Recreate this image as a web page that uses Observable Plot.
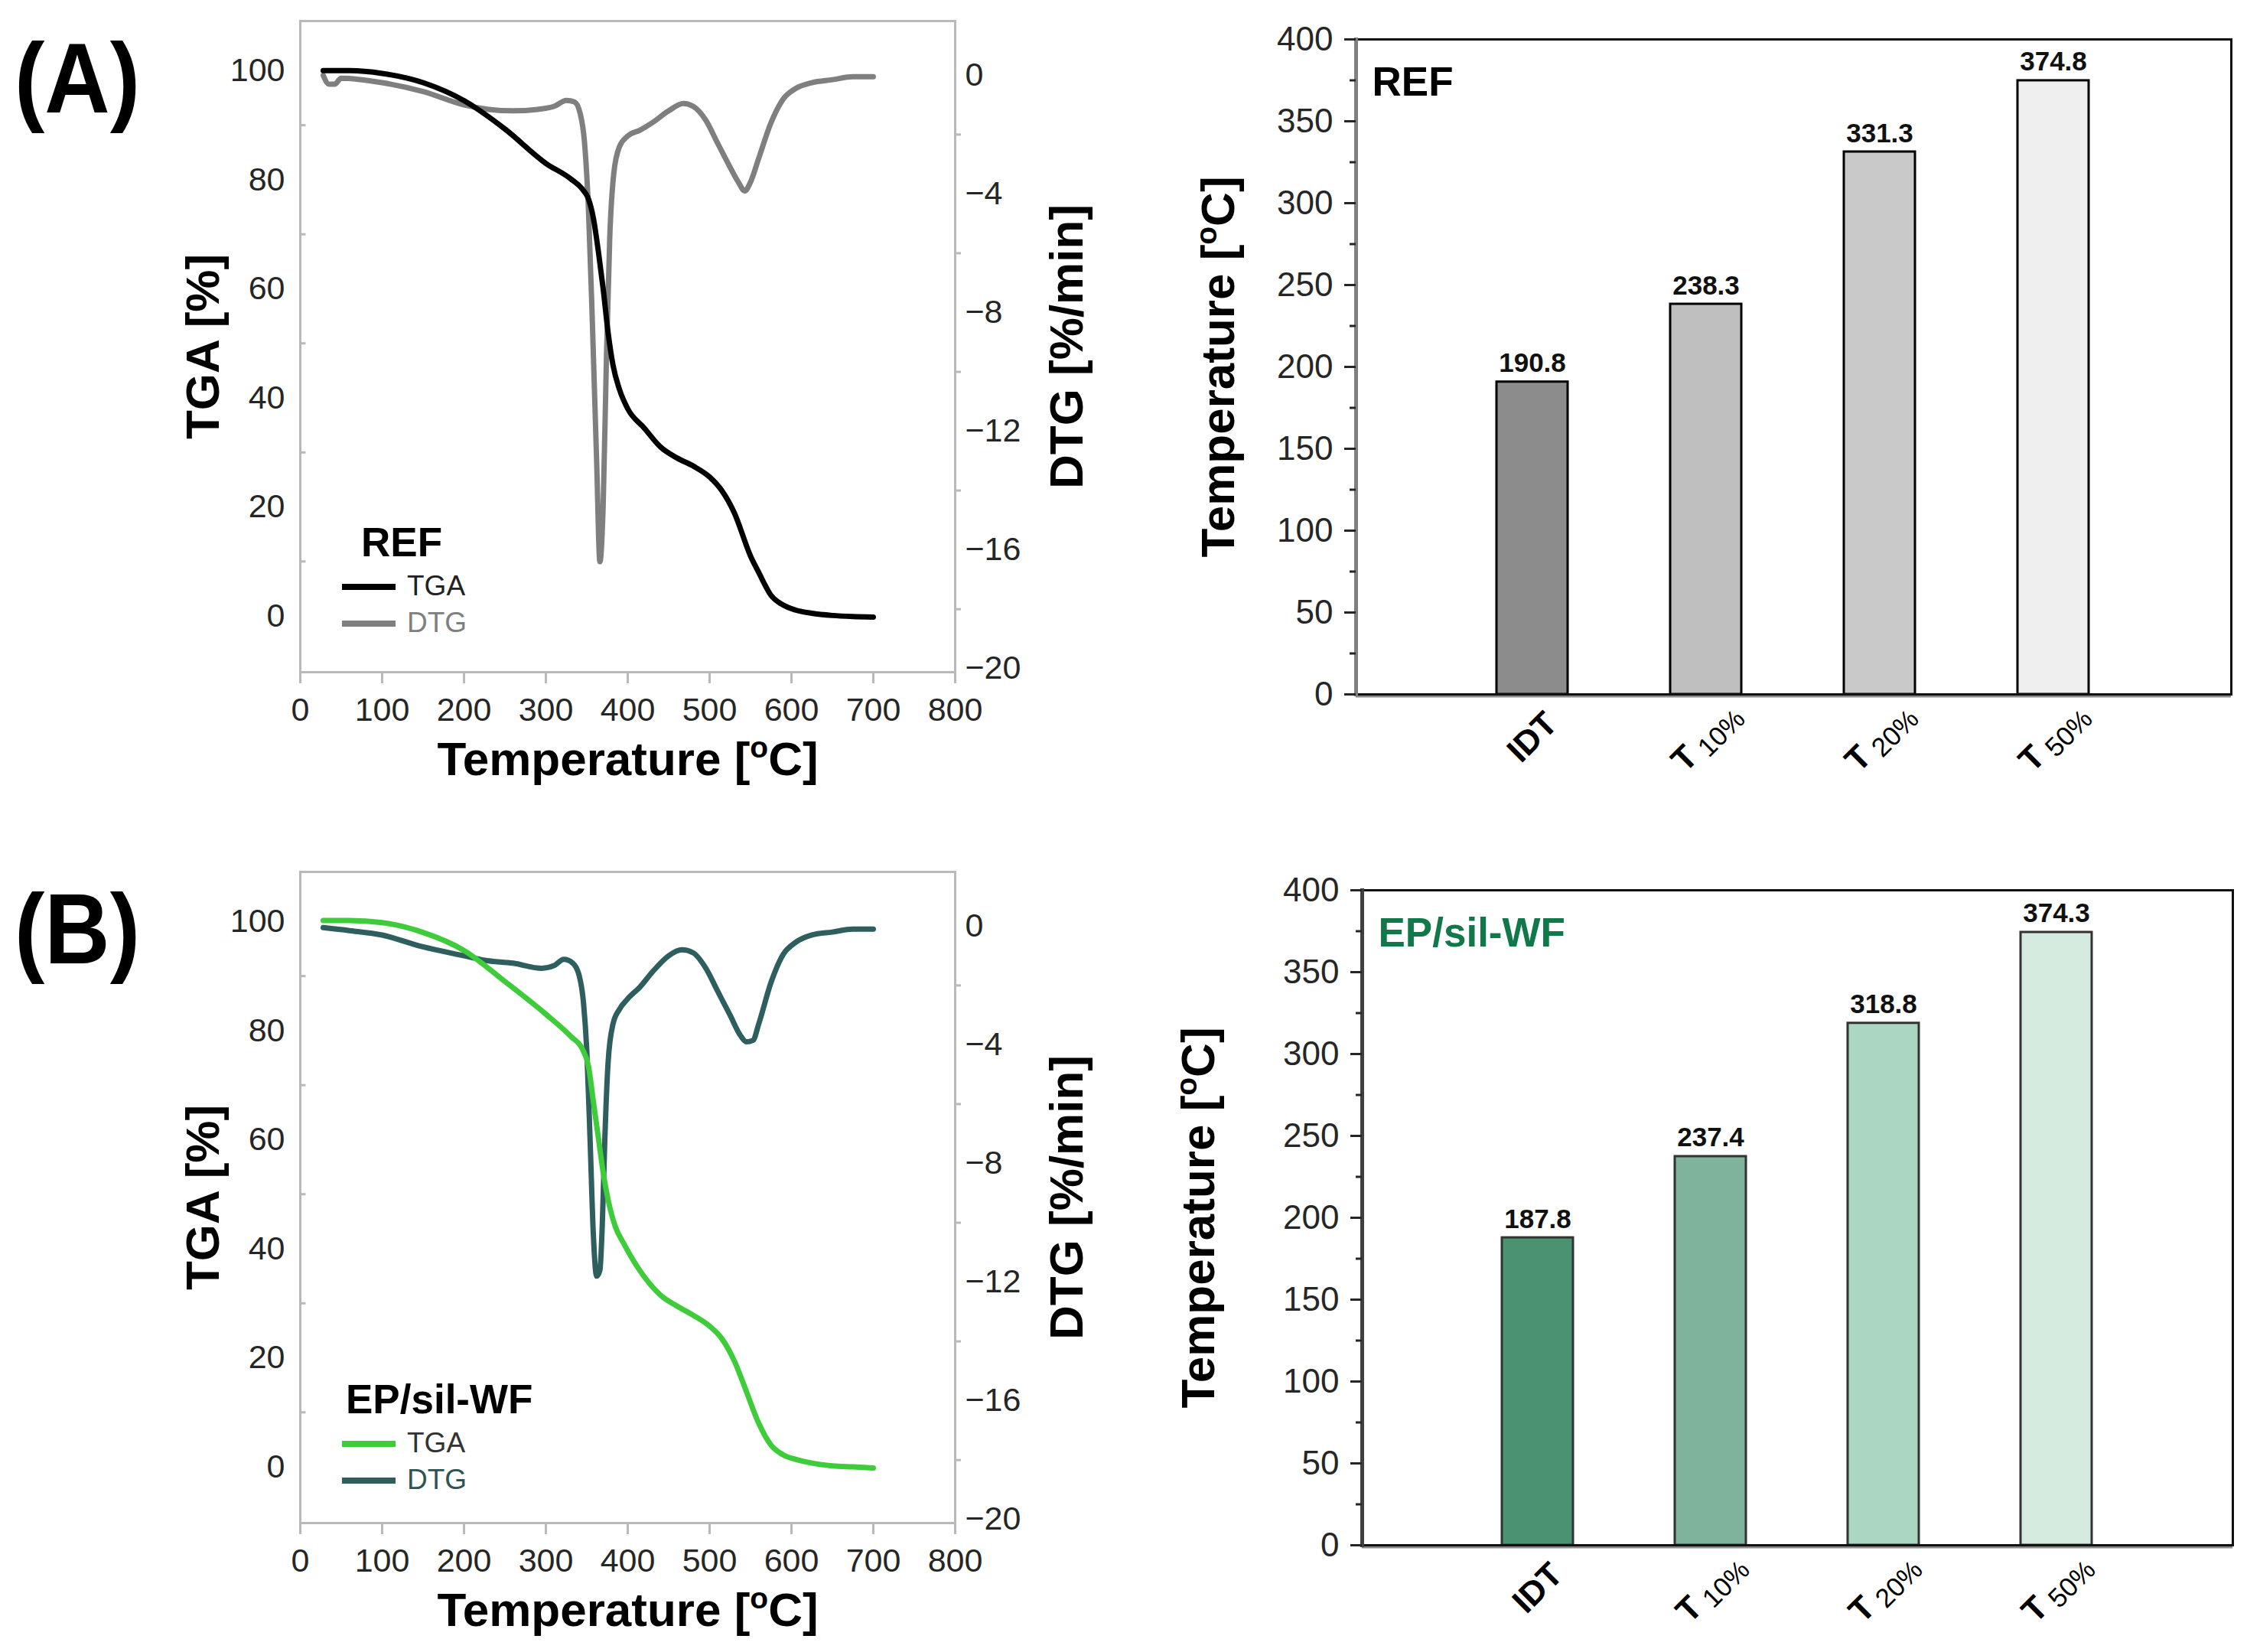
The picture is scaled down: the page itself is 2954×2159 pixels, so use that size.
<!DOCTYPE html>
<html>
<head>
<meta charset="utf-8">
<script src="https://cdn.jsdelivr.net/npm/d3@7"></script>
<script src="https://cdn.jsdelivr.net/npm/@observablehq/plot@0.6"></script>
<style>
  body { margin: 0; background: #fff; }
  #fig { position: relative; width: 2954px; height: 2159px; background: #fff; }
  #fig svg { position: absolute; }
</style>
</head>
<body>
<div id="fig"></div>
<script>
// ---- (A) REF : TGA / DTG curves ----
const refTgaT = [28, 60, 100, 150, 200, 250, 300, 330, 345, 352, 358, 364, 370, 376, 382, 390, 400, 420, 440, 460, 480, 500, 515, 530, 550, 560, 575, 590, 605, 625, 650, 675, 700];
const refTga  = [100, 100, 99.5, 97.8, 94.5, 89.3, 83, 80.2, 78.2, 76.5, 73, 67, 60, 52, 46, 41.5, 38, 34.5, 31, 29, 27.5, 25.5, 23, 19, 11, 8, 3.8, 2, 1.1, 0.5, 0.1, -0.1, -0.2];
const refDtgT = [28, 35, 42, 50, 100, 150, 200, 230, 260, 290, 310, 325, 335, 342, 347, 352, 357, 362, 366, 370, 374, 378, 383, 390, 400, 415, 430, 450, 468, 480, 495, 510, 525, 535, 543, 550, 560, 575, 590, 605, 625, 650, 675, 700];
const refDtg  = [0, -0.3, -0.3, -0.1, -0.25, -0.55, -1.0, -1.15, -1.2, -1.15, -1.05, -0.85, -0.9, -1.3, -2.2, -4.5, -8.5, -13, -16.4, -14.5, -9.5, -5.5, -3.3, -2.4, -2.05, -1.85, -1.6, -1.2, -0.95, -1.05, -1.5, -2.3, -3.1, -3.6, -3.9, -3.6, -2.8, -1.6, -0.8, -0.45, -0.25, -0.15, -0.05, -0.05];

// ---- (B) EP/sil-WF : TGA / DTG curves ----
const silTgaT = [28, 60, 100, 150, 200, 250, 300, 330, 345, 352, 358, 364, 370, 376, 385, 395, 413, 440, 460, 480, 500, 515, 530, 545, 560, 575, 590, 605, 625, 650, 675, 700];
const silTga  = [100.2, 100.2, 99.8, 98, 94.7, 89, 83, 79, 76.5, 73.5, 67, 60.5, 54, 49, 44, 41, 36.4, 31.5, 29.5, 27.8, 25.8, 23.5, 19.5, 13.8, 8, 4, 2.2, 1.4, 0.7, 0.2, 0, -0.2];
const silDtgT = [28, 60, 100, 150, 200, 225, 260, 295, 310, 322, 333, 341, 346, 350, 354, 358, 362, 366, 369, 372, 376, 382, 390, 400, 415, 430, 450, 466, 480, 495, 510, 525, 538, 545, 553, 560, 575, 590, 605, 625, 650, 675, 700];
const silDtg  = [-0.05, -0.15, -0.3, -0.7, -1.0, -1.15, -1.25, -1.42, -1.33, -1.12, -1.25, -1.7, -2.6, -4.2, -7.2, -10.4, -11.8, -11.6, -10, -7.2, -4.6, -3.3, -2.8, -2.45, -2.05, -1.55, -1.0, -0.8, -0.9, -1.4, -2.2, -3.0, -3.7, -3.9, -3.85, -3.3, -1.9, -0.95, -0.55, -0.3, -0.2, -0.1, -0.1];

// ---- bar charts ----
const barCats = ["IDT", "T10%", "T20%", "T50%"];
const refBars = [190.8, 238.3, 331.3, 374.8];
const silBars = [187.8, 237.4, 318.8, 374.3];
const refBarColors = ["#8c8c8c", "#bfbfbf", "#c9c9c9", "#efefef"];
const silBarColors = ["#4b9370", "#7fb39b", "#aad6c2", "#d6ebe0"];

// ---- ticks ----
const tgaTicks = [0, 20, 40, 60, 80, 100];
const tgaMinor = [10, 30, 50, 70, 90];
const dtgTicks = [0, -4, -8, -12, -16, -20];
const dtgMinor = [-2, -6, -10, -14, -18];
const tempTicks = d3.range(0, 801, 100);
const barTicks = d3.range(0, 401, 50);
const barMinor = d3.range(25, 400, 50);

// DTG is drawn on the TGA scale (secondary axis)
const toT = d => 99.16 + 5.439 * d;
const fromT = t => (t - 99.16) / 5.439;
const signed = d => d === 0 ? "0" : "\u2212" + Math.abs(d);

const FONT = '"Liberation Sans", Arial, "DejaVu Sans", sans-serif';
const frameGray = "#b9b9b9";

function tgaChart({height, marginTop, tgaT, tga, dtgT, dtg, tgaColor, dtgColor}) {
  const tgaData = tgaT.map((t, i) => ({t, v: tga[i]}));
  const dtgData = dtgT.map((t, i) => ({t, v: dtg[i]}));
  return Plot.plot({
    width: 1500, height,
    marginTop, marginBottom: height - marginTop - 851,
    marginLeft: 392, marginRight: 252,
    x: {domain: [0, 800], label: null},
    y: {domain: [-10.3, 109.1], label: null},
    style: {fontFamily: FONT, fontSize: "43px", color: "#262626", background: "white"},
    marks: [
      Plot.frame({stroke: frameGray, strokeWidth: 3}),
      Plot.ruleY(tgaMinor, {x1: 0, x2: 7, stroke: frameGray, strokeWidth: 3}),
      Plot.axisY({ticks: tgaTicks, tickSize: 0, tickPadding: 20, fontSize: 43}),
      Plot.axisY({anchor: "right", ticks: dtgMinor.map(toT), tickSize: 7, tickFormat: () => "", stroke: frameGray, strokeWidth: 3}),
      Plot.axisY({anchor: "right", ticks: dtgTicks.map(toT), tickSize: 0, tickPadding: 13, fontSize: 43,
        tickFormat: t => signed(Math.round(fromT(t)))}),
      Plot.axisX({ticks: tempTicks, tickSize: 15, tickPadding: 18, stroke: frameGray, strokeWidth: 3, fontSize: 43}),
      Plot.line(dtgData, {x: "t", y: d => toT(d.v), stroke: dtgColor, strokeWidth: 7, curve: "monotone-x"}),
      Plot.line(tgaData, {x: "t", y: "v", stroke: tgaColor, strokeWidth: 7, curve: "monotone-x"}),
      Plot.text(["TGA [%]"], {text: d => d, frameAnchor: "left", dx: -126, rotate: -90, textAnchor: "middle", fontSize: 62, fontWeight: "bold", fill: "#000"}),
      Plot.text(["DTG [%/min]"], {text: d => d, frameAnchor: "right", dx: 147, rotate: -90, textAnchor: "middle", fontSize: 62, fontWeight: "bold", fill: "#000"}),
      Plot.text(["Temperature [oC]"], {text: d => d, frameAnchor: "bottom", dy: 134, lineAnchor: "bottom", textAnchor: "middle", fontSize: 62, fontWeight: "bold", fill: "#000"})
    ]
  });
}

function barChart({height, marginTop, marginLeft, marginRight, values, colors, label, labelColor, axisColor, barStroke, titleDx}) {
  const data = barCats.map((c, i) => ({cat: c, value: values[i], color: colors[i]}));
  return Plot.plot({
    width: 1454, height,
    marginTop, marginBottom: height - marginTop - 856,
    marginLeft, marginRight,
    x: {domain: barCats, padding: 0.59, insetLeft: 49, insetRight: 51, label: null, axis: null},
    y: {domain: [0, 400], label: null},
    style: {fontFamily: FONT, fontSize: "44px", color: "#262626", background: "white"},
    marks: [
      Plot.barY(data, {x: "cat", y: "value", fill: "color", stroke: barStroke, strokeWidth: 3}),
      Plot.ruleY([0], {stroke: "#8a8a8a", strokeWidth: 4, dy: 2}),
      Plot.frame({stroke: "#111", strokeWidth: 3}),
      Plot.frame({anchor: "left", stroke: axisColor, strokeWidth: 5}),
      Plot.axisY({ticks: barTicks, tickSize: 15, tickPadding: 15, strokeWidth: 3, fontSize: 44}),
      Plot.axisY({ticks: barMinor, tickSize: 8, tickFormat: () => "", strokeWidth: 3}),
      // category labels, rotated like the original
      Plot.text(data, {x: "cat", text: "cat", frameAnchor: "bottom", dy: 56, rotate: -45, textAnchor: "middle", lineAnchor: "middle",
        fontSize: 44, fontWeight: "bold", fill: "#000"}),
      Plot.text(data, {x: "cat", y: "value", text: d => d.value.toFixed(1), dy: -13, lineAnchor: "bottom", fontSize: 35, fontWeight: "bold", fill: "#111"}),
      Plot.text([label], {text: d => d, frameAnchor: "top-left", dx: 21, dy: 36, lineAnchor: "top", textAnchor: "start", fontSize: 53, fontWeight: "bold", fill: labelColor}),
      Plot.text(["Temperature [oC]"], {text: d => d, frameAnchor: "left", dx: titleDx, rotate: -90, textAnchor: "middle", fontSize: 62, fontWeight: "bold", fill: "#000"})
    ]
  });
}

// superscript "o" in [oC] and subscript in T10% etc.
function decorate(svg) {
  d3.select(svg).selectAll("text").each(function () {
    const el = d3.select(this);
    const s = el.text();
    if (s === "Temperature [oC]") {
      el.text(null);
      el.append("tspan").text("Temperature [");
      el.append("tspan").attr("font-size", 39).attr("dy", -23).text("o");
      el.append("tspan").attr("dy", 23).text("C]");
    } else if (/^T\d+%$/.test(s)) {
      el.text(null);
      el.append("tspan").text("T");
      el.append("tspan").attr("font-size", 35).attr("font-weight", "normal").attr("dx", 9).attr("dy", 8).text(s.slice(1));
    }
  });
}

function addLegend(svg, {x, y, titleDx, title, items}) {
  const g = d3.select(svg).append("g").attr("font-family", FONT).attr("text-anchor", "start");
  g.append("text").attr("x", x + titleDx).attr("y", y).attr("font-size", 53).attr("font-weight", "bold").attr("fill", "#000").text(title);
  items.forEach((it, i) => {
    const yy = y + 40 + i * 48;
    g.append("line").attr("x1", x).attr("x2", x + 70).attr("y1", yy).attr("y2", yy)
      .attr("stroke", it.color).attr("stroke-width", 8);
    g.append("text").attr("x", x + 85).attr("y", yy + 11).attr("font-size", 37).attr("fill", it.textColor).text(it.label);
  });
}

function addTag(svg, tag, y) {
  d3.select(svg).append("text").attr("x", 19).attr("y", y).attr("text-anchor", "start")
    .attr("font-family", FONT).attr("font-size", 130).attr("font-weight", "bold").attr("fill", "#000")
    .attr("textLength", 164).attr("lengthAdjust", "spacingAndGlyphs").text(tag);
}

function place(svg, left, top) {
  svg.style.left = left + "px";
  svg.style.top = top + "px";
  decorate(svg);
  document.getElementById("fig").append(svg);
  return svg;
}

const aLeft = place(tgaChart({height: 1080, marginTop: 27, tgaT: refTgaT, tga: refTga, dtgT: refDtgT, dtg: refDtg,
  tgaColor: "#000000", dtgColor: "#7f7f7f"}), 0, 0);
addLegend(aLeft, {x: 447, y: 727, titleDx: 25, title: "REF", items: [
  {label: "TGA", color: "#000000", textColor: "#222"},
  {label: "DTG", color: "#7f7f7f", textColor: "#7f7f7f"}]});
addTag(aLeft, "(A)", 147);

const bLeft = place(tgaChart({height: 1079, marginTop: 59, tgaT: silTgaT, tga: silTga, dtgT: silDtgT, dtg: silDtg,
  tgaColor: "#3fcc3a", dtgColor: "#2e5e5e"}), 0, 1080);
addLegend(bLeft, {x: 447, y: 767, titleDx: 5, title: "EP/sil-WF", items: [
  {label: "TGA", color: "#3fcc3a", textColor: "#333"},
  {label: "DTG", color: "#2e5e5e", textColor: "#2e5454"}]});
addTag(bLeft, "(B)", 179);

place(barChart({height: 1080, marginTop: 51, marginLeft: 272, marginRight: 38, values: refBars, colors: refBarColors,
  label: "REF", labelColor: "#000", axisColor: "#808080", barStroke: "#000", titleDx: -179}), 1500, 0);

place(barChart({height: 1079, marginTop: 83, marginLeft: 280, marginRight: 36, values: silBars, colors: silBarColors,
  label: "EP/sil-WF", labelColor: "#11784a", axisColor: "#404040", barStroke: "#333", titleDx: -213}), 1500, 1080);
</script>
</body>
</html>
